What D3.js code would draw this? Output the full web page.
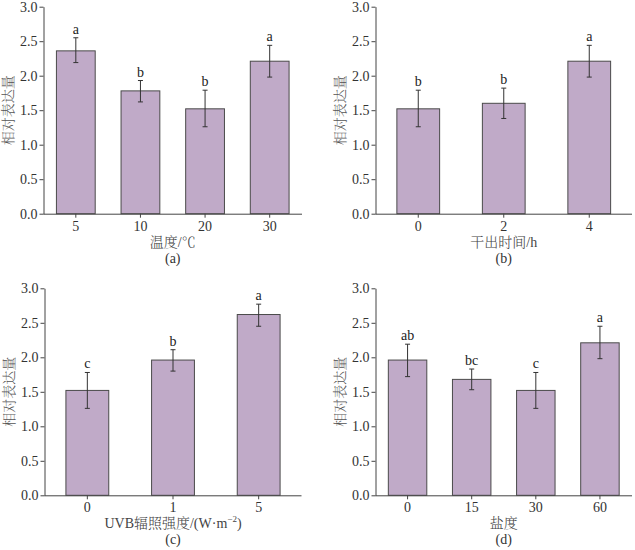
<!DOCTYPE html>
<html>
<head>
<meta charset="utf-8">
<script src="https://cdn.jsdelivr.net/npm/d3@7"></script>
<style>
  body { margin: 0; background: #fff; }
  svg { display: block; }
  .tick text { font-family: "Liberation Serif", "Times New Roman", serif; font-size: 14px; fill: #333; }
  .axis path, .axis line { stroke: #444; }
</style>
</head>
<body>
<svg width="635" height="550"></svg>
<script>
// relative expression data
const yTicks = [0, 0.5, 1.0, 1.5, 2.0, 2.5, 3.0];

const tempCats = ["5", "10", "20", "30"];
const tempMean = [2.36, 1.78, 1.52, 2.21];
const tempErrHi = [2.55, 1.93, 1.79, 2.44];
const tempErrLo = [2.19, 1.62, 1.26, 1.98];
const tempSig = ["a", "b", "b", "a"];

const dryCats = ["0", "2", "4"];
const dryMean = [1.52, 1.60, 2.21];
const dryErrHi = [1.79, 1.82, 2.44];
const dryErrLo = [1.26, 1.38, 1.98];
const drySig = ["b", "b", "a"];

const uvbCats = ["0", "1", "5"];
const uvbMean = [1.52, 1.96, 2.62];
const uvbErrHi = [1.78, 2.11, 2.77];
const uvbErrLo = [1.26, 1.80, 2.45];
const uvbSig = ["c", "b", "a"];

const saltCats = ["0", "15", "30", "60"];
const saltMean = [1.96, 1.68, 1.52, 2.21];
const saltErrHi = [2.19, 1.83, 1.78, 2.45];
const saltErrLo = [1.72, 1.53, 1.26, 1.98];
const saltSig = ["ab", "bc", "c", "a"];

const svg = d3.select("svg");
const serif = "'Liberation Serif', 'Times New Roman', serif";
const cjk = "'Liberation Serif', 'Noto Serif CJK SC', 'Noto Sans CJK SC', serif";

function panel(opt) {
  const x = d3.scaleBand()
    .domain(opt.cats)
    .range([opt.x0, opt.x1])
    .paddingInner(opt.pad)
    .paddingOuter(opt.pad / 2);
  const y = d3.scaleLinear().domain([0, 3]).range([opt.yBot, opt.yTop]);

  const rows = opt.cats.map((c, i) => ({
    cat: c, mean: opt.mean[i], hi: opt.hi[i], lo: opt.lo[i], sig: opt.sig[i]
  }));

  const g = svg.append("g");

  // bars
  g.selectAll(".bar")
    .data(rows)
    .enter()
    .append("rect")
    .attr("x", d => x(d.cat))
    .attr("y", d => y(d.mean))
    .attr("width", x.bandwidth())
    .attr("height", d => y(0) - y(d.mean))
    .attr("fill", "#c0aac8")
    .attr("stroke", "#4a4a4a")
    .attr("stroke-width", 1);

  // error bars
  const cx = d => x(d.cat) + x.bandwidth() / 2;
  g.selectAll(".err")
    .data(rows)
    .enter()
    .append("path")
    .attr("d", d => "M" + (cx(d) - 2.5) + "," + y(d.hi) + "H" + (cx(d) + 2.5) +
      "M" + cx(d) + "," + y(d.hi) + "V" + y(d.lo) +
      "M" + (cx(d) - 2.5) + "," + y(d.lo) + "H" + (cx(d) + 2.5))
    .attr("stroke", "#333")
    .attr("stroke-width", 1)
    .attr("fill", "none");

  // significance letters
  g.selectAll(".sig")
    .data(rows)
    .enter()
    .append("text")
    .attr("x", cx)
    .attr("y", d => y(d.hi) - 4)
    .attr("text-anchor", "middle")
    .attr("font-family", serif)
    .attr("font-size", 14)
    .attr("fill", "#222")
    .text(d => d.sig);

  // axes
  g.append("g")
    .attr("class", "axis")
    .attr("transform", "translate(0," + opt.yBot + ")")
    .call(d3.axisBottom(x).tickSizeInner(4).tickSizeOuter(0).tickPadding(3))
    .select(".domain").attr("d", "M" + opt.x0 + ",0.5H" + opt.x1);
  g.append("g")
    .attr("class", "axis")
    .attr("transform", "translate(" + opt.x0 + ",0)")
    .call(d3.axisLeft(y).tickValues(yTicks).tickFormat(d3.format(".1f"))
      .tickSizeInner(4).tickSizeOuter(0).tickPadding(2));

  // y title
  g.append("text")
    .attr("transform", "translate(" + (opt.x0 - 31) + "," + ((opt.yTop + opt.yBot) / 2) + ") rotate(-90)")
    .attr("text-anchor", "middle")
    .attr("font-family", cjk)
    .attr("font-size", 14)
    .attr("font-weight", 300)
    .attr("fill", "#555")
    .text("相对表达量");

  // x title
  const xt = g.append("text")
    .attr("x", (opt.x0 + opt.x1) / 2)
    .attr("y", opt.yBot + 33)
    .attr("text-anchor", "middle")
    .attr("font-family", cjk)
    .attr("font-size", 14)
    .attr("font-weight", 300)
    .attr("fill", "#444");
  opt.title(xt);

  // panel letter
  g.append("text")
    .attr("x", (opt.x0 + opt.x1) / 2)
    .attr("y", opt.yBot + 49)
    .attr("text-anchor", "middle")
    .attr("font-family", serif)
    .attr("font-size", 14)
    .attr("fill", "#333")
    .text(opt.label);
}

panel({
  cats: tempCats, mean: tempMean, hi: tempErrHi, lo: tempErrLo, sig: tempSig,
  x0: 43.5, x1: 302, yTop: 6.7, yBot: 213.7, pad: 0.4,
  title: t => t.text("温度/℃"), label: "(a)"
});
panel({
  cats: dryCats, mean: dryMean, hi: dryErrHi, lo: dryErrLo, sig: drySig,
  x0: 375.5, x1: 632, yTop: 6.7, yBot: 213.7, pad: 0.5,
  title: t => t.text("干出时间/h"), label: "(b)"
});
panel({
  cats: uvbCats, mean: uvbMean, hi: uvbErrHi, lo: uvbErrLo, sig: uvbSig,
  x0: 44.5, x1: 301.5, yTop: 288.3, yBot: 495.3, pad: 0.5,
  title: t => {
    t.append("tspan").text("UVB辐照强度/(W·m");
    t.append("tspan").attr("font-size", 9).attr("dy", -6).text("−2");
    t.append("tspan").attr("dy", 6).text(")");
  },
  label: "(c)"
});
panel({
  cats: saltCats, mean: saltMean, hi: saltErrHi, lo: saltErrLo, sig: saltSig,
  x0: 375.5, x1: 632, yTop: 288.3, yBot: 495.3, pad: 0.4,
  title: t => t.text("盐度"), label: "(d)"
});
</script>
</body>
</html>
